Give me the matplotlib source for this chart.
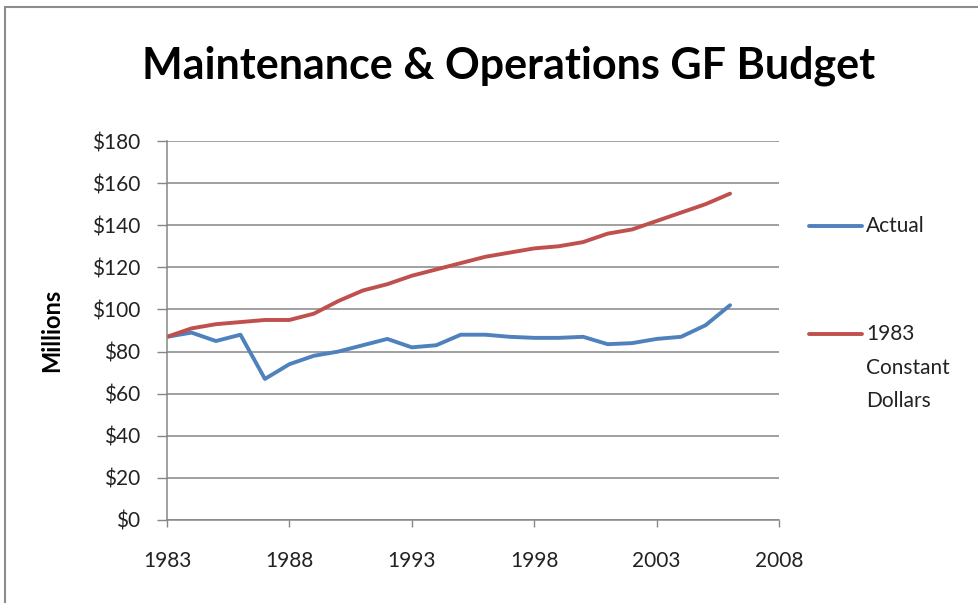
import matplotlib
matplotlib.use('Agg')
import matplotlib.pyplot as plt
from matplotlib.lines import Line2D
from matplotlib.patches import Rectangle

# dane (mln $)
lata = list(range(1983, 2007))
actual = [87, 89, 85, 88, 67, 74, 78, 80, 83, 86, 82, 83, 88,
          88, 87, 86.5, 86.5, 87, 83.5, 84, 86, 87, 92.5, 102]
constant_1983 = [87, 91, 93, 94, 95, 95, 98, 104, 109, 112, 116, 119, 122,
                 125, 127, 129, 130, 132, 136, 138, 142, 146, 150, 155]

x_ticks = [1983, 1988, 1993, 1998, 2003, 2008]
y_ticks = [0, 20, 40, 60, 80, 100, 120, 140, 160, 180]
y_labels = ['$' + str(v) for v in y_ticks]

niebieski = '#4F81BD'
czerwony = '#C0504D'
szary = '#868686'
font = 'Lato'
fs = 15

fig = plt.figure(figsize=(9.79, 6.03), dpi=100)
ax = fig.add_axes([167/979, 1 - 520/603, 612/979, 379/603])

ax.plot(lata, actual, color=niebieski, linewidth=2.8, solid_capstyle='round')
ax.plot(lata, constant_1983, color=czerwony, linewidth=2.8, solid_capstyle='round')

ax.set_xlim(1983, 2008)
ax.set_ylim(0, 180)
ax.set_xticks(x_ticks)
ax.set_xticklabels([str(t) for t in x_ticks], fontsize=fs, family=font, color='#222222')
ax.set_yticks(y_ticks)
ax.set_yticklabels(y_labels, fontsize=fs, family=font, color='#222222')
ax.tick_params(axis='both', color=szary, width=1)
ax.tick_params(axis='y', length=7, pad=12)
ax.tick_params(axis='x', length=5, pad=17)
ax.yaxis.grid(True, color=szary, linewidth=1.1)
ax.set_axisbelow(True)
for s in ['top', 'right']:
    ax.spines[s].set_visible(False)
for s in ['left', 'bottom']:
    ax.spines[s].set_color(szary)
    ax.spines[s].set_linewidth(1.1)

ax.set_ylabel('Millions', fontsize=17, fontweight='bold', family=font)
ax.yaxis.set_label_coords((63 - 167) / 612, 0.5)

fig.text(509/979, 1 - 78/603, 'Maintenance & Operations GF Budget',
         ha='center', va='baseline', fontsize=31, fontweight='bold', family=font)

# legenda
fig.add_artist(Line2D([809/979, 862/979], [1 - 226/603, 1 - 226/603],
                      color=niebieski, linewidth=2.8, solid_capstyle='round'))
fig.text(866/979, 1 - 226/603, 'Actual', ha='left', va='center',
         fontsize=fs, family=font, color='#222222')
fig.add_artist(Line2D([809/979, 862/979], [1 - 334/603, 1 - 334/603],
                      color=czerwony, linewidth=2.8, solid_capstyle='round'))
fig.text(866/979, 1 - 324/603, '1983\nConstant\nDollars', ha='left', va='top',
         fontsize=fs, family=font, linespacing=1.85, color='#222222')

# ramka
fig.add_artist(Rectangle((5/979, -0.01), 1.0, 1 - 7/603 + 0.01,
                         transform=fig.transFigure, fill=False,
                         edgecolor='#8C8C8C', linewidth=1.5))

fig.savefig('out.png', dpi=100)
